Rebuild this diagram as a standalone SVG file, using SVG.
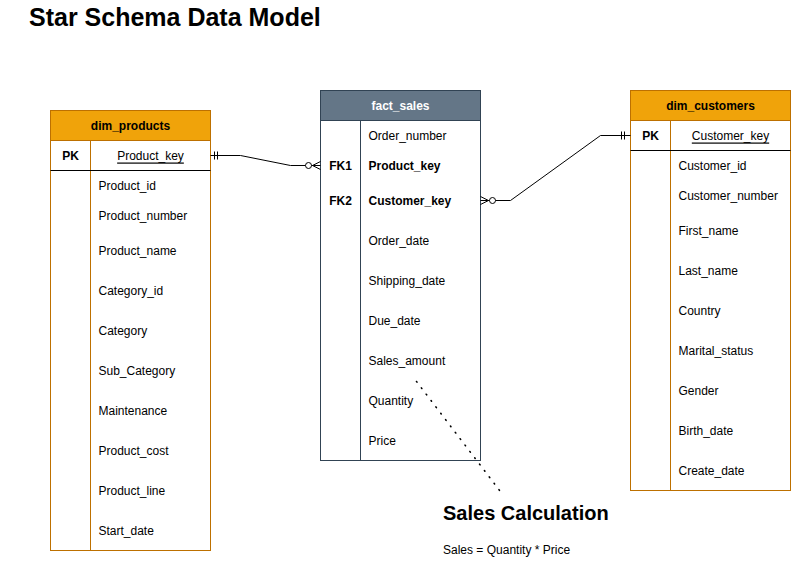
<svg xmlns="http://www.w3.org/2000/svg" width="791" height="573" viewBox="0 0 791 573">
<style>
text{font-family:"Liberation Sans",Arial,sans-serif;font-size:12px;fill:#000}
.b{font-weight:bold}
.c{text-anchor:middle}
.m{dominant-baseline:central}
.dimbox{fill:#fff;stroke:#BD7000;stroke-width:1}
.dimhead{fill:#F0A30A;stroke:#BD7000;stroke-width:1}
.factbox{fill:#fff;stroke:#314354;stroke-width:1}
.facthead{fill:#647687;stroke:#314354;stroke-width:1}
.ln{stroke:#000;stroke-width:1;fill:none}
.con{stroke:#000;stroke-width:1;fill:none}
</style>
<rect width="791" height="573" fill="#fff"/>
<text x="29" y="26" class="b" style="font-size:25px">Star Schema Data Model</text>

<g id="dim_products">
<rect class="dimbox" x="50.5" y="110.5" width="160" height="440"/>
<rect class="dimhead" x="50.5" y="110.5" width="160" height="30"/>
<line x1="90.5" y1="140.5" x2="90.5" y2="550.5" stroke="#BD7000"/>
<line class="ln" x1="50.5" y1="170.5" x2="210.5" y2="170.5"/>
<text x="130.5" y="126" class="b c m">dim_products</text>
<text x="70.5" y="155.5" class="b c m">PK</text>
<text x="150.5" y="155.5" class="c m" text-decoration="underline">Product_key</text>
<text x="98.5" y="185.5" class="m">Product_id</text>
<text x="98.5" y="215.5" class="m">Product_number</text>
<text x="98.5" y="250.5" class="m">Product_name</text>
<text x="98.5" y="290.5" class="m">Category_id</text>
<text x="98.5" y="330.5" class="m">Category</text>
<text x="98.5" y="370.5" class="m">Sub_Category</text>
<text x="98.5" y="410.5" class="m">Maintenance</text>
<text x="98.5" y="450.5" class="m">Product_cost</text>
<text x="98.5" y="490.5" class="m">Product_line</text>
<text x="98.5" y="530.5" class="m">Start_date</text>
</g>

<g id="fact_sales">
<rect class="factbox" x="320.5" y="90.5" width="160" height="370"/>
<rect class="facthead" x="320.5" y="90.5" width="160" height="30"/>
<line x1="360.5" y1="120.5" x2="360.5" y2="460.5" stroke="#314354"/>
<text x="400.5" y="106" class="b c m" style="fill:#fff">fact_sales</text>
<text x="368.5" y="135.5" class="m">Order_number</text>
<text x="340.5" y="165.5" class="b c m">FK1</text>
<text x="368.5" y="165.5" class="b m">Product_key</text>
<text x="340.5" y="200.5" class="b c m">FK2</text>
<text x="368.5" y="200.5" class="b m">Customer_key</text>
<text x="368.5" y="240.5" class="m">Order_date</text>
<text x="368.5" y="280.5" class="m">Shipping_date</text>
<text x="368.5" y="320.5" class="m">Due_date</text>
<text x="368.5" y="360.5" class="m">Sales_amount</text>
<text x="368.5" y="400.5" class="m">Quantity</text>
<text x="368.5" y="440.5" class="m">Price</text>
</g>

<g id="dim_customers">
<rect class="dimbox" x="630.5" y="90.5" width="160" height="400"/>
<rect class="dimhead" x="630.5" y="90.5" width="160" height="30"/>
<line x1="670.5" y1="120.5" x2="670.5" y2="490.5" stroke="#BD7000"/>
<line class="ln" x1="630.5" y1="150.5" x2="790.5" y2="150.5"/>
<text x="710.5" y="106" class="b c m">dim_customers</text>
<text x="650.5" y="135.5" class="b c m">PK</text>
<text x="730.5" y="135.5" class="c m" text-decoration="underline">Customer_key</text>
<text x="678.5" y="165.5" class="m">Customer_id</text>
<text x="678.5" y="195.5" class="m">Customer_number</text>
<text x="678.5" y="230.5" class="m">First_name</text>
<text x="678.5" y="270.5" class="m">Last_name</text>
<text x="678.5" y="310.5" class="m">Country</text>
<text x="678.5" y="350.5" class="m">Marital_status</text>
<text x="678.5" y="390.5" class="m">Gender</text>
<text x="678.5" y="430.5" class="m">Birth_date</text>
<text x="678.5" y="470.5" class="m">Create_date</text>
</g>

<g id="connectors">
<!-- products -> fact_sales -->
<polyline class="con" points="210.5,155.5 240.5,155.5 290.5,165.5 305.5,165.5"/>
<line class="con" x1="214.5" y1="151.5" x2="214.5" y2="159.5"/>
<line class="con" x1="217.5" y1="151.5" x2="217.5" y2="159.5"/>
<circle class="con" cx="308.5" cy="165.5" r="3"/>
<path class="con" d="M311.5,165.5 H320.5 M312.5,165.5 L320.5,161.5 M312.5,165.5 L320.5,169.5"/>
<!-- fact_sales -> customers -->
<polyline class="con" points="495.5,200.5 510.5,200.5 600.5,135.5 630.5,135.5"/>
<path class="con" d="M480.5,200.5 H489.5 M488.5,200.5 L480.5,196.5 M488.5,200.5 L480.5,204.5"/>
<circle class="con" cx="492.5" cy="200.5" r="3"/>
<line class="con" x1="621.5" y1="131.5" x2="621.5" y2="139.5"/>
<line class="con" x1="624.5" y1="131.5" x2="624.5" y2="139.5"/>
<!-- note link -->
<line x1="416.5" y1="381.5" x2="500" y2="491" stroke="#000" stroke-width="1.6" stroke-dasharray="0.8 7.2" stroke-linecap="round"/>
</g>

<g id="sales_calculation">
<text x="443" y="520" class="b" style="font-size:20px">Sales Calculation</text>
<text x="443" y="554">Sales = Quantity * Price</text>
</g>
</svg>
